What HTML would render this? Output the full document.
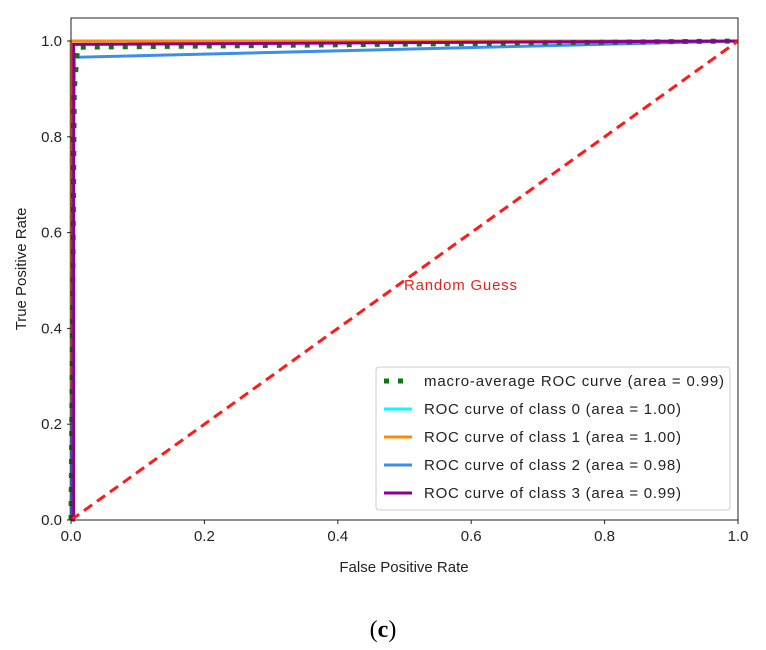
<!DOCTYPE html>
<html><head><meta charset="utf-8"><style>
body{margin:0;background:#fff;width:766px;height:650px;overflow:hidden}
svg{display:block;font-family:"Liberation Sans","DejaVu Sans",sans-serif}
</style></head><body>
<svg id="chart" width="766" height="650">
<rect x="71" y="18" width="667" height="502" fill="#fff"/>
<g id="marks"></g>
<rect x="71" y="18" width="667" height="502" fill="none" stroke="#222" stroke-width="1"/>
<g id="ticks" font-size="15" fill="#222"></g>
<text x="404" y="290" font-size="15" fill="#e8231c" textLength="113">Random Guess</text>
<text x="404" y="572" font-size="15" text-anchor="middle" fill="#222">False Positive Rate</text>
<text transform="translate(26,269) rotate(-90)" font-size="15" text-anchor="middle" fill="#222">True Positive Rate</text>
<text x="383" y="637" font-size="24" text-anchor="middle" font-family="Liberation Serif,serif" fill="#000">(<tspan font-weight="bold">c</tspan>)</text>
<g>
<rect x="376" y="367" width="354" height="143" rx="3" fill="#fff" stroke="#ccc"/>
<g id="legend"></g>
</g>
</svg>
<script>
const xTicks=[0,0.2,0.4,0.6,0.8,1.0];
const yTicks=[0,0.2,0.4,0.6,0.8,1.0];
const fprMacro=[0,0.005,0.01,1];
const tprMacro=[0,0.9,0.987,1];
const fpr0=[0,0,1];const tpr0=[0,1,1];
const fpr1=[0,0,1];const tpr1=[0,1,1];
const fpr2=[0,0.005,1];const tpr2=[0,0.966,1];
const fpr3=[0,0.004,0.004,1];const tpr3=[0,0,0.993,1];
const randX=[0,1];const randY=[0,1];
const legendLabels=["macro-average ROC curve (area = 0.99)","ROC curve of class 0 (area = 1.00)","ROC curve of class 1 (area = 1.00)","ROC curve of class 2 (area = 0.98)","ROC curve of class 3 (area = 0.99)"];
const X=v=>71+v*667, Y=v=>520-v*479;
const NS="http://www.w3.org/2000/svg";
const marks=document.getElementById('marks');
function line(xs,ys,color,w,dash,name){
  const p=document.createElementNS(NS,'polyline');
  p.setAttribute('points',xs.map((x,i)=>X(x)+','+Y(ys[i])).join(' '));
  p.setAttribute('fill','none');p.setAttribute('stroke',color);p.setAttribute('stroke-width',w);
  if(dash)p.setAttribute('stroke-dasharray',dash);
  
  
  marks.appendChild(p);
}
line(fpr0,tpr0,'#00ffff',3,null,'class-0-curve');
line(fpr1,tpr1,'#ff8c00',3,null,'class-1-curve');
line(fpr2,tpr2,'#3d8ee8',3,null,'class-2-curve');
line(fprMacro,tprMacro,'#0a7a0a',5,'5,9','macro-average-curve');
line(fpr3,tpr3,'#8b008b',3,null,'class-3-curve');
line(randX,randY,'#ff1a1a',3,'10,6','random-guess-line');
const tg=document.getElementById('ticks');
xTicks.forEach(v=>{
  const l=document.createElementNS(NS,'line');l.setAttribute('x1',X(v));l.setAttribute('x2',X(v));l.setAttribute('y1',520);l.setAttribute('y2',524);l.setAttribute('stroke','#222');
  
  
  tg.appendChild(l);
  const t=document.createElementNS(NS,'text');t.setAttribute('x',X(v));t.setAttribute('y',541);t.setAttribute('text-anchor','middle');t.textContent=v.toFixed(1);
  
  
  tg.appendChild(t);
});
yTicks.forEach(v=>{
  const l=document.createElementNS(NS,'line');l.setAttribute('x1',67);l.setAttribute('x2',71);l.setAttribute('y1',Y(v));l.setAttribute('y2',Y(v));l.setAttribute('stroke','#222');
  
  
  tg.appendChild(l);
  const t=document.createElementNS(NS,'text');t.setAttribute('x',62);t.setAttribute('y',Y(v)+5);t.setAttribute('text-anchor','end');t.textContent=v.toFixed(1);
  
  
  tg.appendChild(t);
});
const lg=document.getElementById('legend');
const lc=['#0a7a0a','#00ffff','#ff8c00','#3d8ee8','#8b008b'];
legendLabels.forEach((s,i)=>{
  const y=381+i*28;
  const l=document.createElementNS(NS,'line');l.setAttribute('x1',384);l.setAttribute('x2',412);l.setAttribute('y1',y);l.setAttribute('y2',y);l.setAttribute('stroke',lc[i]);l.setAttribute('stroke-width',i==0?5:3);
  if(i==0)l.setAttribute('stroke-dasharray','5,9');
  
  
  lg.appendChild(l);
  const t=document.createElementNS(NS,'text');t.setAttribute('x',424);t.setAttribute('y',y+5);t.setAttribute('font-size','15');t.setAttribute('fill','#222');
  t.setAttribute('textLength', i==0?300:257);
  t.textContent=s;
  
  
  lg.appendChild(t);
});
</script>
</body></html>
